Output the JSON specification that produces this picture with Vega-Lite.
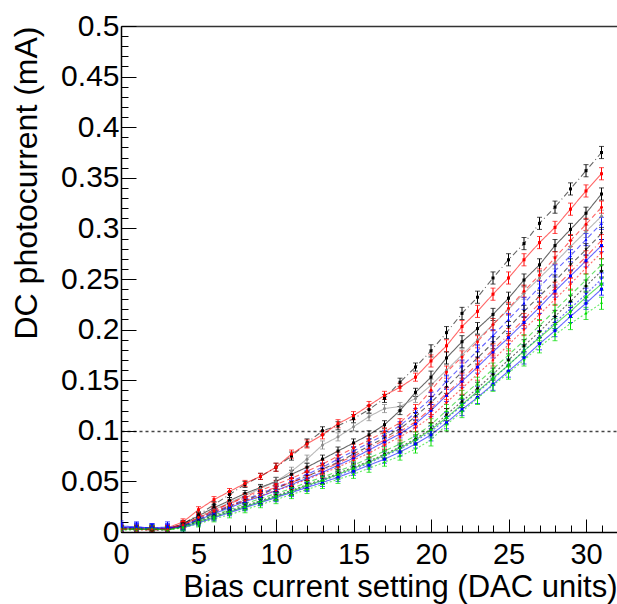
{
"$schema":"https://vega.github.io/schema/vega-lite/v6.json",
"width":496,"height":506,
"autosize":{"type":"none"},
"padding":{"left":121,"top":26,"right":0,"bottom":72},
"background":"#ffffff",
"config":{"view":{"stroke":null},"font":"Liberation Sans"},
"data":{"values":[
{"s":"A","x":0,"y":0.004,"e":0.003},{"s":"A","x":1,"y":0.004,"e":0.003},{"s":"A","x":2,"y":0.003,"e":0.003},{"s":"A","x":3,"y":0.003,"e":0.003},{"s":"A","x":4,"y":0.008,"e":0.003},{"s":"A","x":5,"y":0.017,"e":0.003},{"s":"A","x":6,"y":0.027,"e":0.003},{"s":"A","x":7,"y":0.037,"e":0.003},{"s":"A","x":8,"y":0.047,"e":0.003},{"s":"A","x":9,"y":0.055,"e":0.003},{"s":"A","x":10,"y":0.064,"e":0.004},{"s":"A","x":11,"y":0.075,"e":0.004},{"s":"A","x":12,"y":0.088,"e":0.004},{"s":"A","x":13,"y":0.100,"e":0.004},{"s":"A","x":14,"y":0.105,"e":0.004},{"s":"A","x":15,"y":0.112,"e":0.004},{"s":"A","x":16,"y":0.121,"e":0.004},{"s":"A","x":17,"y":0.132,"e":0.004},{"s":"A","x":18,"y":0.148,"e":0.004},{"s":"A","x":19,"y":0.163,"e":0.004},{"s":"A","x":20,"y":0.179,"e":0.006},{"s":"A","x":21,"y":0.197,"e":0.006},{"s":"A","x":22,"y":0.216,"e":0.006},{"s":"A","x":23,"y":0.232,"e":0.006},{"s":"A","x":24,"y":0.251,"e":0.006},{"s":"A","x":25,"y":0.269,"e":0.006},{"s":"A","x":26,"y":0.285,"e":0.006},{"s":"A","x":27,"y":0.305,"e":0.006},{"s":"A","x":28,"y":0.321,"e":0.006},{"s":"A","x":29,"y":0.339,"e":0.006},{"s":"A","x":30,"y":0.357,"e":0.006},{"s":"A","x":31,"y":0.375,"e":0.006},
{"s":"B","x":0,"y":0.004,"e":0.003},{"s":"B","x":1,"y":0.004,"e":0.003},{"s":"B","x":2,"y":0.003,"e":0.003},{"s":"B","x":3,"y":0.004,"e":0.003},{"s":"B","x":4,"y":0.010,"e":0.003},{"s":"B","x":5,"y":0.022,"e":0.003},{"s":"B","x":6,"y":0.032,"e":0.003},{"s":"B","x":7,"y":0.040,"e":0.003},{"s":"B","x":8,"y":0.048,"e":0.003},{"s":"B","x":9,"y":0.055,"e":0.003},{"s":"B","x":10,"y":0.064,"e":0.004},{"s":"B","x":11,"y":0.077,"e":0.004},{"s":"B","x":12,"y":0.087,"e":0.004},{"s":"B","x":13,"y":0.096,"e":0.004},{"s":"B","x":14,"y":0.107,"e":0.004},{"s":"B","x":15,"y":0.115,"e":0.004},{"s":"B","x":16,"y":0.125,"e":0.004},{"s":"B","x":17,"y":0.135,"e":0.004},{"s":"B","x":18,"y":0.143,"e":0.004},{"s":"B","x":19,"y":0.153,"e":0.004},{"s":"B","x":20,"y":0.169,"e":0.006},{"s":"B","x":21,"y":0.184,"e":0.006},{"s":"B","x":22,"y":0.203,"e":0.006},{"s":"B","x":23,"y":0.218,"e":0.006},{"s":"B","x":24,"y":0.235,"e":0.006},{"s":"B","x":25,"y":0.251,"e":0.006},{"s":"B","x":26,"y":0.269,"e":0.006},{"s":"B","x":27,"y":0.286,"e":0.006},{"s":"B","x":28,"y":0.301,"e":0.006},{"s":"B","x":29,"y":0.319,"e":0.006},{"s":"B","x":30,"y":0.337,"e":0.006},{"s":"B","x":31,"y":0.354,"e":0.006},
{"s":"C","x":0,"y":0.003,"e":0.003},{"s":"C","x":1,"y":0.003,"e":0.003},{"s":"C","x":2,"y":0.002,"e":0.003},{"s":"C","x":3,"y":0.003,"e":0.003},{"s":"C","x":4,"y":0.008,"e":0.003},{"s":"C","x":5,"y":0.016,"e":0.003},{"s":"C","x":6,"y":0.024,"e":0.003},{"s":"C","x":7,"y":0.031,"e":0.003},{"s":"C","x":8,"y":0.038,"e":0.003},{"s":"C","x":9,"y":0.044,"e":0.003},{"s":"C","x":10,"y":0.050,"e":0.004},{"s":"C","x":11,"y":0.057,"e":0.004},{"s":"C","x":12,"y":0.064,"e":0.004},{"s":"C","x":13,"y":0.072,"e":0.004},{"s":"C","x":14,"y":0.080,"e":0.004},{"s":"C","x":15,"y":0.088,"e":0.004},{"s":"C","x":16,"y":0.096,"e":0.004},{"s":"C","x":17,"y":0.106,"e":0.004},{"s":"C","x":18,"y":0.120,"e":0.004},{"s":"C","x":19,"y":0.138,"e":0.004},{"s":"C","x":20,"y":0.153,"e":0.006},{"s":"C","x":21,"y":0.172,"e":0.006},{"s":"C","x":22,"y":0.188,"e":0.006},{"s":"C","x":23,"y":0.201,"e":0.006},{"s":"C","x":24,"y":0.215,"e":0.006},{"s":"C","x":25,"y":0.231,"e":0.006},{"s":"C","x":26,"y":0.249,"e":0.006},{"s":"C","x":27,"y":0.264,"e":0.006},{"s":"C","x":28,"y":0.283,"e":0.006},{"s":"C","x":29,"y":0.299,"e":0.006},{"s":"C","x":30,"y":0.315,"e":0.006},{"s":"C","x":31,"y":0.334,"e":0.006},
{"s":"D","x":0,"y":0.003,"e":0.003},{"s":"D","x":1,"y":0.004,"e":0.003},{"s":"D","x":2,"y":0.003,"e":0.003},{"s":"D","x":3,"y":0.003,"e":0.003},{"s":"D","x":4,"y":0.007,"e":0.003},{"s":"D","x":5,"y":0.014,"e":0.003},{"s":"D","x":6,"y":0.022,"e":0.003},{"s":"D","x":7,"y":0.029,"e":0.003},{"s":"D","x":8,"y":0.036,"e":0.003},{"s":"D","x":9,"y":0.043,"e":0.003},{"s":"D","x":10,"y":0.050,"e":0.004},{"s":"D","x":11,"y":0.060,"e":0.004},{"s":"D","x":12,"y":0.072,"e":0.004},{"s":"D","x":13,"y":0.086,"e":0.004},{"s":"D","x":14,"y":0.094,"e":0.004},{"s":"D","x":15,"y":0.104,"e":0.004},{"s":"D","x":16,"y":0.114,"e":0.004},{"s":"D","x":17,"y":0.122,"e":0.004},{"s":"D","x":18,"y":0.124,"e":0.004},{"s":"D","x":19,"y":0.132,"e":0.004},{"s":"D","x":20,"y":0.145,"e":0.006},{"s":"D","x":21,"y":0.160,"e":0.006},{"s":"D","x":22,"y":0.175,"e":0.006},{"s":"D","x":23,"y":0.190,"e":0.006},{"s":"D","x":24,"y":0.205,"e":0.006},{"s":"D","x":25,"y":0.220,"e":0.006},{"s":"D","x":26,"y":0.236,"e":0.006},{"s":"D","x":27,"y":0.251,"e":0.006},{"s":"D","x":28,"y":0.266,"e":0.006},{"s":"D","x":29,"y":0.282,"e":0.006},{"s":"D","x":30,"y":0.297,"e":0.006},{"s":"D","x":31,"y":0.312,"e":0.006},
{"s":"E","x":0,"y":0.003,"e":0.003},{"s":"E","x":1,"y":0.003,"e":0.003},{"s":"E","x":2,"y":0.002,"e":0.003},{"s":"E","x":3,"y":0.003,"e":0.003},{"s":"E","x":4,"y":0.007,"e":0.003},{"s":"E","x":5,"y":0.014,"e":0.003},{"s":"E","x":6,"y":0.021,"e":0.003},{"s":"E","x":7,"y":0.028,"e":0.003},{"s":"E","x":8,"y":0.035,"e":0.003},{"s":"E","x":9,"y":0.041,"e":0.003},{"s":"E","x":10,"y":0.047,"e":0.004},{"s":"E","x":11,"y":0.053,"e":0.004},{"s":"E","x":12,"y":0.060,"e":0.004},{"s":"E","x":13,"y":0.067,"e":0.004},{"s":"E","x":14,"y":0.075,"e":0.004},{"s":"E","x":15,"y":0.083,"e":0.004},{"s":"E","x":16,"y":0.091,"e":0.004},{"s":"E","x":17,"y":0.099,"e":0.004},{"s":"E","x":18,"y":0.108,"e":0.004},{"s":"E","x":19,"y":0.122,"e":0.004},{"s":"E","x":20,"y":0.140,"e":0.006},{"s":"E","x":21,"y":0.158,"e":0.006},{"s":"E","x":22,"y":0.173,"e":0.006},{"s":"E","x":23,"y":0.188,"e":0.006},{"s":"E","x":24,"y":0.205,"e":0.006},{"s":"E","x":25,"y":0.221,"e":0.006},{"s":"E","x":26,"y":0.238,"e":0.006},{"s":"E","x":27,"y":0.254,"e":0.006},{"s":"E","x":28,"y":0.271,"e":0.006},{"s":"E","x":29,"y":0.288,"e":0.006},{"s":"E","x":30,"y":0.304,"e":0.006},{"s":"E","x":31,"y":0.321,"e":0.006},
{"s":"F","x":0,"y":0.004,"e":0.004},{"s":"F","x":1,"y":0.005,"e":0.004},{"s":"F","x":2,"y":0.004,"e":0.004},{"s":"F","x":3,"y":0.004,"e":0.004},{"s":"F","x":4,"y":0.006,"e":0.003},{"s":"F","x":5,"y":0.013,"e":0.003},{"s":"F","x":6,"y":0.020,"e":0.003},{"s":"F","x":7,"y":0.026,"e":0.003},{"s":"F","x":8,"y":0.032,"e":0.003},{"s":"F","x":9,"y":0.038,"e":0.003},{"s":"F","x":10,"y":0.044,"e":0.004},{"s":"F","x":11,"y":0.050,"e":0.004},{"s":"F","x":12,"y":0.057,"e":0.004},{"s":"F","x":13,"y":0.064,"e":0.004},{"s":"F","x":14,"y":0.072,"e":0.004},{"s":"F","x":15,"y":0.080,"e":0.004},{"s":"F","x":16,"y":0.088,"e":0.004},{"s":"F","x":17,"y":0.096,"e":0.004},{"s":"F","x":18,"y":0.105,"e":0.004},{"s":"F","x":19,"y":0.118,"e":0.004},{"s":"F","x":20,"y":0.132,"e":0.006},{"s":"F","x":21,"y":0.149,"e":0.006},{"s":"F","x":22,"y":0.164,"e":0.006},{"s":"F","x":23,"y":0.179,"e":0.006},{"s":"F","x":24,"y":0.194,"e":0.006},{"s":"F","x":25,"y":0.210,"e":0.006},{"s":"F","x":26,"y":0.226,"e":0.006},{"s":"F","x":27,"y":0.242,"e":0.006},{"s":"F","x":28,"y":0.258,"e":0.006},{"s":"F","x":29,"y":0.273,"e":0.006},{"s":"F","x":30,"y":0.289,"e":0.006},{"s":"F","x":31,"y":0.305,"e":0.006},
{"s":"G","x":0,"y":0.003,"e":0.003},{"s":"G","x":1,"y":0.003,"e":0.003},{"s":"G","x":2,"y":0.003,"e":0.003},{"s":"G","x":3,"y":0.002,"e":0.003},{"s":"G","x":4,"y":0.006,"e":0.003},{"s":"G","x":5,"y":0.012,"e":0.003},{"s":"G","x":6,"y":0.019,"e":0.003},{"s":"G","x":7,"y":0.025,"e":0.003},{"s":"G","x":8,"y":0.031,"e":0.003},{"s":"G","x":9,"y":0.037,"e":0.003},{"s":"G","x":10,"y":0.043,"e":0.004},{"s":"G","x":11,"y":0.049,"e":0.004},{"s":"G","x":12,"y":0.055,"e":0.004},{"s":"G","x":13,"y":0.062,"e":0.004},{"s":"G","x":14,"y":0.069,"e":0.004},{"s":"G","x":15,"y":0.077,"e":0.004},{"s":"G","x":16,"y":0.085,"e":0.004},{"s":"G","x":17,"y":0.093,"e":0.004},{"s":"G","x":18,"y":0.102,"e":0.004},{"s":"G","x":19,"y":0.114,"e":0.004},{"s":"G","x":20,"y":0.128,"e":0.006},{"s":"G","x":21,"y":0.143,"e":0.006},{"s":"G","x":22,"y":0.158,"e":0.006},{"s":"G","x":23,"y":0.172,"e":0.006},{"s":"G","x":24,"y":0.187,"e":0.006},{"s":"G","x":25,"y":0.202,"e":0.006},{"s":"G","x":26,"y":0.218,"e":0.006},{"s":"G","x":27,"y":0.233,"e":0.006},{"s":"G","x":28,"y":0.248,"e":0.006},{"s":"G","x":29,"y":0.264,"e":0.006},{"s":"G","x":30,"y":0.279,"e":0.006},{"s":"G","x":31,"y":0.295,"e":0.006},
{"s":"H","x":0,"y":0.005,"e":0.004},{"s":"H","x":1,"y":0.004,"e":0.004},{"s":"H","x":2,"y":0.004,"e":0.004},{"s":"H","x":3,"y":0.003,"e":0.004},{"s":"H","x":4,"y":0.006,"e":0.003},{"s":"H","x":5,"y":0.012,"e":0.003},{"s":"H","x":6,"y":0.018,"e":0.003},{"s":"H","x":7,"y":0.024,"e":0.003},{"s":"H","x":8,"y":0.030,"e":0.003},{"s":"H","x":9,"y":0.035,"e":0.003},{"s":"H","x":10,"y":0.041,"e":0.004},{"s":"H","x":11,"y":0.047,"e":0.004},{"s":"H","x":12,"y":0.053,"e":0.004},{"s":"H","x":13,"y":0.059,"e":0.004},{"s":"H","x":14,"y":0.066,"e":0.004},{"s":"H","x":15,"y":0.073,"e":0.004},{"s":"H","x":16,"y":0.081,"e":0.004},{"s":"H","x":17,"y":0.089,"e":0.004},{"s":"H","x":18,"y":0.097,"e":0.004},{"s":"H","x":19,"y":0.107,"e":0.004},{"s":"H","x":20,"y":0.120,"e":0.006},{"s":"H","x":21,"y":0.135,"e":0.006},{"s":"H","x":22,"y":0.149,"e":0.006},{"s":"H","x":23,"y":0.163,"e":0.006},{"s":"H","x":24,"y":0.178,"e":0.006},{"s":"H","x":25,"y":0.192,"e":0.006},{"s":"H","x":26,"y":0.207,"e":0.006},{"s":"H","x":27,"y":0.222,"e":0.006},{"s":"H","x":28,"y":0.238,"e":0.006},{"s":"H","x":29,"y":0.253,"e":0.006},{"s":"H","x":30,"y":0.268,"e":0.006},{"s":"H","x":31,"y":0.283,"e":0.006},
{"s":"I","x":0,"y":0.003,"e":0.003},{"s":"I","x":1,"y":0.002,"e":0.003},{"s":"I","x":2,"y":0.002,"e":0.003},{"s":"I","x":3,"y":0.003,"e":0.003},{"s":"I","x":4,"y":0.007,"e":0.003},{"s":"I","x":5,"y":0.014,"e":0.003},{"s":"I","x":6,"y":0.020,"e":0.003},{"s":"I","x":7,"y":0.026,"e":0.003},{"s":"I","x":8,"y":0.031,"e":0.003},{"s":"I","x":9,"y":0.036,"e":0.003},{"s":"I","x":10,"y":0.041,"e":0.004},{"s":"I","x":11,"y":0.046,"e":0.004},{"s":"I","x":12,"y":0.052,"e":0.004},{"s":"I","x":13,"y":0.058,"e":0.004},{"s":"I","x":14,"y":0.064,"e":0.004},{"s":"I","x":15,"y":0.071,"e":0.004},{"s":"I","x":16,"y":0.078,"e":0.004},{"s":"I","x":17,"y":0.086,"e":0.004},{"s":"I","x":18,"y":0.094,"e":0.004},{"s":"I","x":19,"y":0.103,"e":0.004},{"s":"I","x":20,"y":0.114,"e":0.006},{"s":"I","x":21,"y":0.128,"e":0.006},{"s":"I","x":22,"y":0.142,"e":0.006},{"s":"I","x":23,"y":0.156,"e":0.006},{"s":"I","x":24,"y":0.170,"e":0.006},{"s":"I","x":25,"y":0.185,"e":0.006},{"s":"I","x":26,"y":0.200,"e":0.006},{"s":"I","x":27,"y":0.215,"e":0.006},{"s":"I","x":28,"y":0.230,"e":0.006},{"s":"I","x":29,"y":0.245,"e":0.006},{"s":"I","x":30,"y":0.261,"e":0.006},{"s":"I","x":31,"y":0.276,"e":0.006},
{"s":"J","x":0,"y":0.002,"e":0.003},{"s":"J","x":1,"y":0.003,"e":0.003},{"s":"J","x":2,"y":0.004,"e":0.003},{"s":"J","x":3,"y":0.002,"e":0.003},{"s":"J","x":4,"y":0.005,"e":0.003},{"s":"J","x":5,"y":0.011,"e":0.003},{"s":"J","x":6,"y":0.017,"e":0.003},{"s":"J","x":7,"y":0.022,"e":0.003},{"s":"J","x":8,"y":0.028,"e":0.003},{"s":"J","x":9,"y":0.033,"e":0.003},{"s":"J","x":10,"y":0.038,"e":0.004},{"s":"J","x":11,"y":0.043,"e":0.004},{"s":"J","x":12,"y":0.049,"e":0.004},{"s":"J","x":13,"y":0.054,"e":0.004},{"s":"J","x":14,"y":0.060,"e":0.004},{"s":"J","x":15,"y":0.066,"e":0.004},{"s":"J","x":16,"y":0.073,"e":0.004},{"s":"J","x":17,"y":0.080,"e":0.004},{"s":"J","x":18,"y":0.087,"e":0.004},{"s":"J","x":19,"y":0.095,"e":0.004},{"s":"J","x":20,"y":0.106,"e":0.006},{"s":"J","x":21,"y":0.120,"e":0.006},{"s":"J","x":22,"y":0.134,"e":0.006},{"s":"J","x":23,"y":0.147,"e":0.006},{"s":"J","x":24,"y":0.161,"e":0.006},{"s":"J","x":25,"y":0.175,"e":0.006},{"s":"J","x":26,"y":0.189,"e":0.006},{"s":"J","x":27,"y":0.204,"e":0.006},{"s":"J","x":28,"y":0.219,"e":0.006},{"s":"J","x":29,"y":0.234,"e":0.006},{"s":"J","x":30,"y":0.249,"e":0.006},{"s":"J","x":31,"y":0.264,"e":0.006},
{"s":"K","x":0,"y":0.003,"e":0.003},{"s":"K","x":1,"y":0.003,"e":0.003},{"s":"K","x":2,"y":0.002,"e":0.003},{"s":"K","x":3,"y":0.002,"e":0.003},{"s":"K","x":4,"y":0.005,"e":0.003},{"s":"K","x":5,"y":0.011,"e":0.003},{"s":"K","x":6,"y":0.016,"e":0.003},{"s":"K","x":7,"y":0.021,"e":0.003},{"s":"K","x":8,"y":0.026,"e":0.003},{"s":"K","x":9,"y":0.031,"e":0.003},{"s":"K","x":10,"y":0.036,"e":0.004},{"s":"K","x":11,"y":0.041,"e":0.004},{"s":"K","x":12,"y":0.047,"e":0.004},{"s":"K","x":13,"y":0.052,"e":0.004},{"s":"K","x":14,"y":0.058,"e":0.004},{"s":"K","x":15,"y":0.064,"e":0.004},{"s":"K","x":16,"y":0.070,"e":0.004},{"s":"K","x":17,"y":0.077,"e":0.004},{"s":"K","x":18,"y":0.084,"e":0.004},{"s":"K","x":19,"y":0.092,"e":0.004},{"s":"K","x":20,"y":0.102,"e":0.006},{"s":"K","x":21,"y":0.116,"e":0.006},{"s":"K","x":22,"y":0.129,"e":0.006},{"s":"K","x":23,"y":0.142,"e":0.006},{"s":"K","x":24,"y":0.156,"e":0.006},{"s":"K","x":25,"y":0.170,"e":0.006},{"s":"K","x":26,"y":0.184,"e":0.006},{"s":"K","x":27,"y":0.198,"e":0.006},{"s":"K","x":28,"y":0.213,"e":0.006},{"s":"K","x":29,"y":0.228,"e":0.006},{"s":"K","x":30,"y":0.243,"e":0.006},{"s":"K","x":31,"y":0.258,"e":0.006},
{"s":"L","x":0,"y":0.004,"e":0.004},{"s":"L","x":1,"y":0.004,"e":0.004},{"s":"L","x":2,"y":0.003,"e":0.004},{"s":"L","x":3,"y":0.004,"e":0.004},{"s":"L","x":4,"y":0.005,"e":0.003},{"s":"L","x":5,"y":0.010,"e":0.003},{"s":"L","x":6,"y":0.015,"e":0.003},{"s":"L","x":7,"y":0.020,"e":0.003},{"s":"L","x":8,"y":0.025,"e":0.003},{"s":"L","x":9,"y":0.030,"e":0.003},{"s":"L","x":10,"y":0.035,"e":0.004},{"s":"L","x":11,"y":0.040,"e":0.004},{"s":"L","x":12,"y":0.045,"e":0.004},{"s":"L","x":13,"y":0.051,"e":0.004},{"s":"L","x":14,"y":0.056,"e":0.004},{"s":"L","x":15,"y":0.062,"e":0.004},{"s":"L","x":16,"y":0.068,"e":0.004},{"s":"L","x":17,"y":0.075,"e":0.004},{"s":"L","x":18,"y":0.082,"e":0.004},{"s":"L","x":19,"y":0.090,"e":0.004},{"s":"L","x":20,"y":0.099,"e":0.006},{"s":"L","x":21,"y":0.112,"e":0.006},{"s":"L","x":22,"y":0.125,"e":0.006},{"s":"L","x":23,"y":0.138,"e":0.006},{"s":"L","x":24,"y":0.151,"e":0.006},{"s":"L","x":25,"y":0.165,"e":0.006},{"s":"L","x":26,"y":0.179,"e":0.006},{"s":"L","x":27,"y":0.193,"e":0.006},{"s":"L","x":28,"y":0.207,"e":0.006},{"s":"L","x":29,"y":0.221,"e":0.006},{"s":"L","x":30,"y":0.235,"e":0.006},{"s":"L","x":31,"y":0.250,"e":0.006},
{"s":"M","x":0,"y":0.006,"e":0.005},{"s":"M","x":1,"y":0.005,"e":0.005},{"s":"M","x":2,"y":0.004,"e":0.004},{"s":"M","x":3,"y":0.005,"e":0.005},{"s":"M","x":4,"y":0.004,"e":0.003},{"s":"M","x":5,"y":0.009,"e":0.003},{"s":"M","x":6,"y":0.014,"e":0.003},{"s":"M","x":7,"y":0.019,"e":0.003},{"s":"M","x":8,"y":0.024,"e":0.003},{"s":"M","x":9,"y":0.029,"e":0.003},{"s":"M","x":10,"y":0.034,"e":0.004},{"s":"M","x":11,"y":0.039,"e":0.004},{"s":"M","x":12,"y":0.044,"e":0.004},{"s":"M","x":13,"y":0.049,"e":0.004},{"s":"M","x":14,"y":0.054,"e":0.004},{"s":"M","x":15,"y":0.060,"e":0.004},{"s":"M","x":16,"y":0.066,"e":0.004},{"s":"M","x":17,"y":0.072,"e":0.004},{"s":"M","x":18,"y":0.079,"e":0.004},{"s":"M","x":19,"y":0.087,"e":0.004},{"s":"M","x":20,"y":0.096,"e":0.006},{"s":"M","x":21,"y":0.108,"e":0.006},{"s":"M","x":22,"y":0.121,"e":0.006},{"s":"M","x":23,"y":0.133,"e":0.006},{"s":"M","x":24,"y":0.146,"e":0.006},{"s":"M","x":25,"y":0.159,"e":0.006},{"s":"M","x":26,"y":0.172,"e":0.006},{"s":"M","x":27,"y":0.186,"e":0.006},{"s":"M","x":28,"y":0.199,"e":0.006},{"s":"M","x":29,"y":0.213,"e":0.006},{"s":"M","x":30,"y":0.226,"e":0.006},{"s":"M","x":31,"y":0.240,"e":0.006},
{"s":"N","x":0,"y":0.002,"e":0.003},{"s":"N","x":1,"y":0.002,"e":0.003},{"s":"N","x":2,"y":0.003,"e":0.003},{"s":"N","x":3,"y":0.002,"e":0.003},{"s":"N","x":4,"y":0.004,"e":0.003},{"s":"N","x":5,"y":0.008,"e":0.003},{"s":"N","x":6,"y":0.013,"e":0.003},{"s":"N","x":7,"y":0.017,"e":0.003},{"s":"N","x":8,"y":0.022,"e":0.003},{"s":"N","x":9,"y":0.027,"e":0.003},{"s":"N","x":10,"y":0.032,"e":0.004},{"s":"N","x":11,"y":0.037,"e":0.004},{"s":"N","x":12,"y":0.042,"e":0.004},{"s":"N","x":13,"y":0.047,"e":0.004},{"s":"N","x":14,"y":0.052,"e":0.004},{"s":"N","x":15,"y":0.057,"e":0.004},{"s":"N","x":16,"y":0.063,"e":0.004},{"s":"N","x":17,"y":0.069,"e":0.004},{"s":"N","x":18,"y":0.075,"e":0.004},{"s":"N","x":19,"y":0.082,"e":0.004},{"s":"N","x":20,"y":0.091,"e":0.006},{"s":"N","x":21,"y":0.106,"e":0.006},{"s":"N","x":22,"y":0.119,"e":0.006},{"s":"N","x":23,"y":0.132,"e":0.006},{"s":"N","x":24,"y":0.145,"e":0.006},{"s":"N","x":25,"y":0.157,"e":0.006},{"s":"N","x":26,"y":0.170,"e":0.006},{"s":"N","x":27,"y":0.183,"e":0.006},{"s":"N","x":28,"y":0.195,"e":0.006},{"s":"N","x":29,"y":0.206,"e":0.006},{"s":"N","x":30,"y":0.216,"e":0.006},{"s":"N","x":31,"y":0.226,"e":0.006},
{"s":"O","x":0,"y":0.003,"e":0.003},{"s":"O","x":1,"y":0.003,"e":0.003},{"s":"O","x":2,"y":0.003,"e":0.003},{"s":"O","x":3,"y":0.002,"e":0.003},{"s":"O","x":4,"y":0.005,"e":0.003},{"s":"O","x":5,"y":0.010,"e":0.003},{"s":"O","x":6,"y":0.015,"e":0.003},{"s":"O","x":7,"y":0.020,"e":0.003},{"s":"O","x":8,"y":0.025,"e":0.003},{"s":"O","x":9,"y":0.030,"e":0.003},{"s":"O","x":10,"y":0.035,"e":0.004},{"s":"O","x":11,"y":0.040,"e":0.004},{"s":"O","x":12,"y":0.046,"e":0.004},{"s":"O","x":13,"y":0.051,"e":0.004},{"s":"O","x":14,"y":0.057,"e":0.004},{"s":"O","x":15,"y":0.063,"e":0.004},{"s":"O","x":16,"y":0.069,"e":0.004},{"s":"O","x":17,"y":0.076,"e":0.004},{"s":"O","x":18,"y":0.083,"e":0.004},{"s":"O","x":19,"y":0.091,"e":0.004},{"s":"O","x":20,"y":0.101,"e":0.006},{"s":"O","x":21,"y":0.113,"e":0.006},{"s":"O","x":22,"y":0.126,"e":0.006},{"s":"O","x":23,"y":0.139,"e":0.006},{"s":"O","x":24,"y":0.152,"e":0.006},{"s":"O","x":25,"y":0.165,"e":0.006},{"s":"O","x":26,"y":0.179,"e":0.006},{"s":"O","x":27,"y":0.192,"e":0.006},{"s":"O","x":28,"y":0.205,"e":0.006},{"s":"O","x":29,"y":0.218,"e":0.006},{"s":"O","x":30,"y":0.232,"e":0.006},{"s":"O","x":31,"y":0.245,"e":0.006},
{"s":"P","x":0,"y":0.003,"e":0.003},{"s":"P","x":1,"y":0.003,"e":0.003},{"s":"P","x":2,"y":0.003,"e":0.003},{"s":"P","x":3,"y":0.003,"e":0.003},{"s":"P","x":4,"y":0.007,"e":0.003},{"s":"P","x":5,"y":0.015,"e":0.003},{"s":"P","x":6,"y":0.022,"e":0.003},{"s":"P","x":7,"y":0.028,"e":0.003},{"s":"P","x":8,"y":0.034,"e":0.003},{"s":"P","x":9,"y":0.039,"e":0.003},{"s":"P","x":10,"y":0.044,"e":0.004},{"s":"P","x":11,"y":0.049,"e":0.004},{"s":"P","x":12,"y":0.055,"e":0.004},{"s":"P","x":13,"y":0.061,"e":0.004},{"s":"P","x":14,"y":0.068,"e":0.004},{"s":"P","x":15,"y":0.075,"e":0.004},{"s":"P","x":16,"y":0.083,"e":0.004},{"s":"P","x":17,"y":0.091,"e":0.004},{"s":"P","x":18,"y":0.099,"e":0.004},{"s":"P","x":19,"y":0.109,"e":0.004},{"s":"P","x":20,"y":0.122,"e":0.006},{"s":"P","x":21,"y":0.137,"e":0.006},{"s":"P","x":22,"y":0.151,"e":0.006},{"s":"P","x":23,"y":0.166,"e":0.006},{"s":"P","x":24,"y":0.180,"e":0.006},{"s":"P","x":25,"y":0.195,"e":0.006},{"s":"P","x":26,"y":0.210,"e":0.006},{"s":"P","x":27,"y":0.226,"e":0.006},{"s":"P","x":28,"y":0.241,"e":0.006},{"s":"P","x":29,"y":0.257,"e":0.006},{"s":"P","x":30,"y":0.272,"e":0.006},{"s":"P","x":31,"y":0.288,"e":0.006}
]},
"resolve":{"axis":{"x":"independent","y":"independent"}},
"layer":[
{"mark":{"type":"line","strokeWidth":1.1,"opacity":0.6,"clip":true},
 "encoding":{
  "x":{"field":"x","type":"quantitative","scale":{"domain":[0,32],"nice":false,"zero":false},
   "axis":{"orient":"bottom","values":[0,1,2,3,4,5,6,7,8,9,10,11,12,13,14,15,16,17,18,19,20,21,22,23,24,25,26,27,28,29,30,31,32],
    "labelExpr":"datum.value % 5 === 0 ? datum.label : ''",
    "tickSize":-7,
    "grid":false,"domainColor":"#000000","domainWidth":1.5,"tickColor":"#000000","tickWidth":1,
    "labelFont":"Liberation Sans","labelFontSize":29,"labelColor":"#000000","labelPadding":15,"labelFlush":false,"labelOverlap":false,
    "title":"Bias current setting (DAC units)","titleFont":"Liberation Sans","titleFontSize":31,"titleFontWeight":"normal","titleColor":"#000000","titleAnchor":"end","titlePadding":3}},
  "y":{"field":"y","type":"quantitative","scale":{"domain":[0,0.5],"nice":false},
   "axis":{"orient":"left","values":[0,0.01,0.02,0.03,0.04,0.05,0.06,0.07,0.08,0.09,0.1,0.11,0.12,0.13,0.14,0.15,0.16,0.17,0.18,0.19,0.2,0.21,0.22,0.23,0.24,0.25,0.26,0.27,0.28,0.29,0.3,0.31,0.32,0.33,0.34,0.35,0.36,0.37,0.38,0.39,0.4,0.41,0.42,0.43,0.44,0.45,0.46,0.47,0.48,0.49,0.5],
    "labelExpr":"abs(datum.value*20 - round(datum.value*20)) < 0.001 ? '' + round(datum.value*100)/100 : ''",
    "tickSize":-7,
    "grid":true,
    "gridColor":{"condition":{"test":"datum.value > 0.45","value":"#333333"},"value":"#444444"},
    "gridOpacity":{"condition":{"test":"abs(datum.value - 0.1) < 0.001 || datum.value > 0.495","value":1},"value":0},
    "gridDash":{"condition":{"test":"datum.value > 0.45","value":[]},"value":[3,3]},
    "gridWidth":{"condition":{"test":"datum.value > 0.45","value":1.5},"value":1.3},
    "domainColor":"#000000","domainWidth":1.5,"tickColor":"#000000","tickWidth":1,
    "labelFont":"Liberation Sans","labelFontSize":30,"labelColor":"#000000","labelPadding":9,"labelFlush":false,"labelOverlap":false,
    "title":"DC photocurrent (mA)","titleFont":"Liberation Sans","titleFontSize":32,"titleFontWeight":"normal","titleColor":"#000000","titleAnchor":"end","titlePadding":17}},
  "color":{"field":"s","type":"nominal","legend":null,
   "scale":{"domain":["A","B","C","D","E","F","G","H","I","J","K","L","M","N","O","P"],
    "range":["#000000","#ff0000","#000000","#888888","#ff0000","#0000ff","#000000","#0000ff","#ff0000","#00cc00","#000000","#0000ff","#0000ff","#00dd00","#00cc00","#ff0000"]}},
  "strokeDash":{"field":"s","type":"nominal","legend":null,
   "scale":{"domain":["A","B","C","D","E","F","G","H","I","J","K","L","M","N","O","P"],
    "range":[[6,3,1,3],[1,0],[1,0],[1,0],[5,3],[5,3],[5,3],[1,0],[2,2],[5,3],[2,2],[2,2],[1,0],[2,2],[1,0],[6,3,1,3]]}}
 }},
{"mark":{"type":"errorbar","ticks":true,"size":5,"thickness":1,"clip":true},
 "encoding":{
  "x":{"field":"x","type":"quantitative","scale":{"domain":[0,32],"nice":false,"zero":false},"axis":null},
  "y":{"field":"y","type":"quantitative","scale":{"domain":[0,0.5],"nice":false},"axis":null},
  "yError":{"field":"e"},
  "color":{"field":"s","type":"nominal","legend":null}
 }},
{"mark":{"type":"point","filled":true,"size":9,"opacity":1,"clip":true},
 "encoding":{
  "x":{"field":"x","type":"quantitative","scale":{"domain":[0,32],"nice":false,"zero":false},
   "axis":{"orient":"bottom","values":[0,5,10,15,20,25,30],"tickSize":-13,"tickColor":"#000000","tickWidth":1,"labels":false,"domain":false,"grid":false,"title":null}},
  "y":{"field":"y","type":"quantitative","scale":{"domain":[0,0.5],"nice":false},
   "axis":{"orient":"left","values":[0,0.05,0.1,0.15,0.2,0.25,0.3,0.35,0.4,0.45,0.5],"tickSize":-15,"tickColor":"#000000","tickWidth":1,"labels":false,"domain":false,"grid":false,"title":null}},
  "color":{"field":"s","type":"nominal","legend":null},
  "shape":{"field":"s","type":"nominal","legend":null,
   "scale":{"domain":["A","B","C","D","E","F","G","H","I","J","K","L","M","N","O","P"],
    "range":["square","square","square","circle","circle","triangle-up","triangle-down","square","diamond","triangle-up","circle","triangle-down","square","diamond","circle","triangle-up"]}}
 }}
]
}
